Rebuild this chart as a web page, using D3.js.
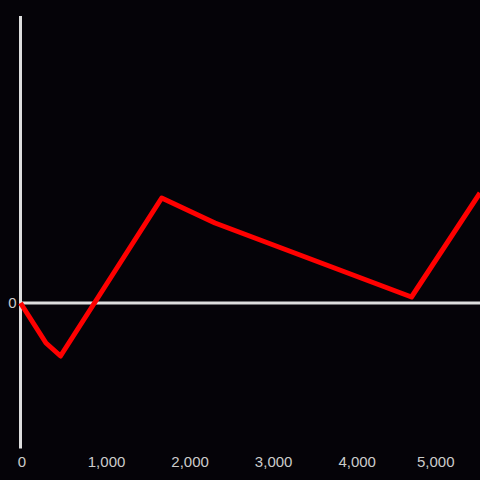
<!DOCTYPE html>
<html>
<head>
<meta charset="utf-8">
<script src="https://cdn.jsdelivr.net/npm/d3@7"></script>
<style>
  html, body { margin: 0; padding: 0; background: #050308; }
  svg { display: block; }
</style>
</head>
<body>
<svg width="480" height="480"></svg>
<script>
// Chart values.
const xValues = [0, 305, 479, 1690, 2328, 4680, 5500];
const yValues = [0, -40, -53, 105, 80, 6, 110];
const xTicks = [0, 1000, 2000, 3000, 4000, 5000];
const yTicks = [0];

document.addEventListener("DOMContentLoaded", () => {

    const width = 480;
    const height = 480;
    const svg = d3.select("svg");

    const x = d3.scaleLinear().domain([0, 5500]).range([20.5, 480]);
    const y = d3.scaleLinear().domain([-145.5, 287]).range([448.5, 16]);

    const axisColor = "#dddddd";
    const labelColor = "#cccccc";
    const font = "'Liberation Sans', Arial, sans-serif";

    // Vertical axis line.
    svg.append("line")
        .attr("x1", x(0)).attr("x2", x(0))
        .attr("y1", y.range()[1]).attr("y2", y.range()[0])
        .style("stroke", axisColor)
        .style("stroke-width", 3);

    // Horizontal zero line.
    svg.append("line")
        .attr("x1", x(0)).attr("x2", width)
        .attr("y1", y(0)).attr("y2", y(0))
        .style("stroke", axisColor)
        .style("stroke-width", 3);

    // X tick labels.
    const xAxis = svg.append("g")
        .attr("transform", `translate(0, ${height - 27})`)
        .call(d3.axisBottom(x).tickValues(xTicks).tickSize(0).tickFormat(d3.format(",")));
    xAxis.select(".domain").remove();
    xAxis.selectAll("text")
        .attr("dy", "0.71em")
        .attr("dx", (d) => d === 5000 ? -3 : (d === 0 ? 1 : 2))
        .style("fill", labelColor)
        .style("font-family", font)
        .style("font-size", "15px");

    // Y tick label.
    const yAxis = svg.append("g")
        .attr("transform", `translate(${x(0) - 4}, 0)`)
        .call(d3.axisLeft(y).tickValues(yTicks).tickSize(0));
    yAxis.select(".domain").remove();
    yAxis.selectAll("text")
        .attr("x", 0)
        .style("fill", labelColor)
        .style("font-family", font)
        .style("font-size", "15px");

    // Data line.
    const points = xValues.map((v, i) => [v, yValues[i]]);
    const line = d3.line()
        .x((d) => x(d[0]))
        .y((d) => y(d[1]));

    svg.append("path")
        .datum(points)
        .attr("d", line)
        .style("fill", "none")
        .style("stroke", "#ff0000")
        .style("stroke-width", 5)
        .style("stroke-linejoin", "round");
});
</script>
</body>
</html>
